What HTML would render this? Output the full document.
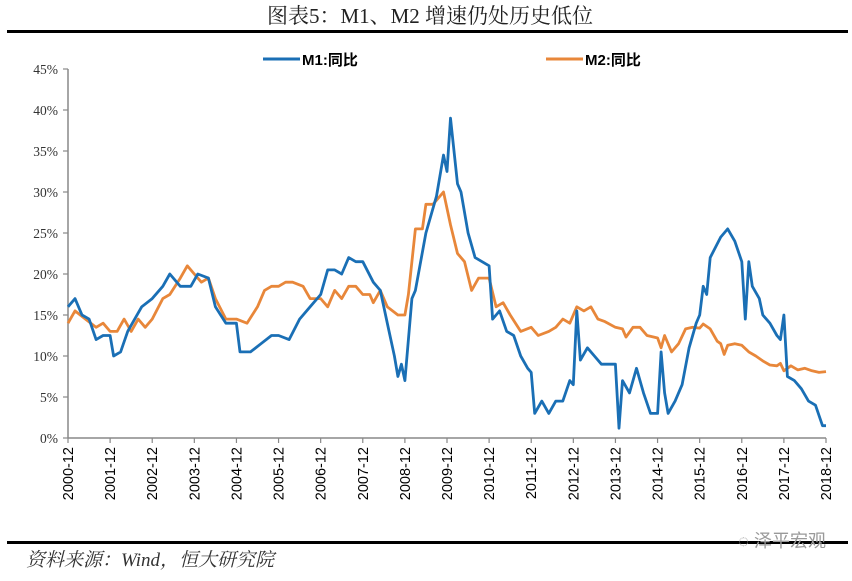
<!DOCTYPE html>
<html><head><meta charset="utf-8"><style>
body{margin:0;background:#fff;width:852px;height:576px;overflow:hidden}
</style></head><body>
<svg width="852" height="576" xmlns="http://www.w3.org/2000/svg">
<text x="430" y="23" text-anchor="middle" font-family="'Liberation Serif','Noto Serif CJK SC',serif" font-size="21" fill="#222">图表5：M1、M2 增速仍处历史低位</text>
<rect x="7" y="30" width="841" height="3" fill="#000"/>
<g>
<line x1="263" y1="59" x2="300" y2="59" stroke="#1a6fb5" stroke-width="3"/>
<text x="302" y="65" font-family="'Liberation Sans','Noto Sans CJK SC',sans-serif" font-weight="bold" font-size="15" fill="#000">M1:同比</text>
<line x1="546" y1="59" x2="583" y2="59" stroke="#e8873a" stroke-width="3"/>
<text x="585" y="65" font-family="'Liberation Sans','Noto Sans CJK SC',sans-serif" font-weight="bold" font-size="15" fill="#000">M2:同比</text>
</g>
<g id="axes"></g>
<g id="series"></g>
<rect x="7" y="541" width="841" height="3" fill="#000"/>
<text x="26" y="566" font-family="'Liberation Serif','Noto Serif CJK SC',serif" font-style="italic" font-size="19" fill="#333">资料来源：Wind，恒大研究院</text>
<text x="826" y="547" text-anchor="end" font-family="'Liberation Sans','Noto Sans CJK SC',sans-serif" font-size="18" fill="#999">◌ 泽平宏观</text>
</svg>
<script>
const yTicks=[0,5,10,15,20,25,30,35,40,45];
const xTickLabels=["2000-12","2001-12","2002-12","2003-12","2004-12","2005-12","2006-12","2007-12","2008-12","2009-12","2010-12","2011-12","2012-12","2013-12","2014-12","2015-12","2016-12","2017-12","2018-12"];
const m1Dates=["2000-12","2001-02","2001-04","2001-06","2001-08","2001-10","2001-12","2002-01","2002-03","2002-05","2002-07","2002-09","2002-12","2003-03","2003-05","2003-08","2003-11","2004-01","2004-04","2004-06","2004-09","2004-12","2005-01","2005-04","2005-07","2005-10","2005-12","2006-03","2006-06","2006-09","2006-12","2007-02","2007-04","2007-06","2007-08","2007-10","2007-12","2008-03","2008-05","2008-07","2008-09","2008-10","2008-11","2008-12","2009-02","2009-03","2009-06","2009-09","2009-11","2009-12","2010-01","2010-03","2010-04","2010-06","2010-08","2010-10","2010-12","2011-01","2011-03","2011-05","2011-07","2011-09","2011-11","2011-12","2012-01","2012-03","2012-05","2012-07","2012-09","2012-11","2012-12","2013-01","2013-02","2013-04","2013-06","2013-08","2013-10","2013-12","2014-01","2014-02","2014-04","2014-06","2014-08","2014-10","2014-12","2015-01","2015-02","2015-03","2015-05","2015-07","2015-09","2015-11","2015-12","2016-01","2016-02","2016-03","2016-06","2016-08","2016-10","2016-12","2017-01","2017-02","2017-03","2017-05","2017-06","2017-08","2017-10","2017-11","2017-12","2018-01","2018-03","2018-05","2018-07","2018-09","2018-11","2018-12"];
const m1Values=[16,17,15,14.5,12,12.5,12.5,10,10.5,13,14.5,16,17,18.5,20,18.5,18.5,20,19.5,16,14,14,10.5,10.5,11.5,12.5,12.5,12,14.5,16,17.5,20.5,20.5,20,22,21.5,21.5,19,18,14,10,7.5,9,7,17,18,25,29.5,34.5,32.5,39,31,30,25,22,21.5,21,14.5,15.5,13,12.5,10,8.5,8,3,4.5,3,4.5,4.5,7,6.5,15.5,9.5,11,10,9,9,9,1.2,7,5.5,8.5,5.5,3,3,10.5,5.5,3,4.5,6.5,11,14,15,18.5,17.5,22,24.5,25.5,24,21.5,14.5,21.5,18.5,17,15,14,12.5,12,15,7.5,7,6,4.5,4,1.5,1.5];
const m2Dates=["2000-12","2001-02","2001-05","2001-08","2001-10","2001-12","2002-02","2002-04","2002-06","2002-08","2002-10","2002-12","2003-03","2003-05","2003-08","2003-10","2003-12","2004-02","2004-04","2004-06","2004-09","2004-12","2005-03","2005-06","2005-08","2005-10","2005-12","2006-02","2006-04","2006-07","2006-09","2006-12","2007-02","2007-04","2007-06","2007-08","2007-10","2007-12","2008-02","2008-03","2008-05","2008-07","2008-10","2008-12","2009-01","2009-03","2009-05","2009-06","2009-08","2009-10","2009-11","2010-01","2010-03","2010-05","2010-07","2010-09","2010-12","2011-02","2011-04","2011-06","2011-09","2011-12","2012-02","2012-05","2012-07","2012-09","2012-11","2013-01","2013-03","2013-05","2013-07","2013-09","2013-12","2014-02","2014-03","2014-05","2014-07","2014-09","2014-11","2014-12","2015-01","2015-02","2015-04","2015-06","2015-08","2015-10","2015-12","2016-01","2016-03","2016-05","2016-06","2016-07","2016-08","2016-10","2016-12","2017-02","2017-04","2017-06","2017-08","2017-10","2017-11","2017-12","2018-02","2018-04","2018-06","2018-08","2018-10","2018-12"];
const m2Values=[14,15.5,14.5,13.5,14,13,13,14.5,13,14.5,13.5,14.5,17,17.5,19.5,21,20,19,19.5,17,14.5,14.5,14,16,18,18.5,18.5,19,19,18.5,17,17,16,18,17,18.5,18.5,17.5,17.5,16.5,18,16,15,15,17.5,25.5,25.5,28.5,28.5,29.5,30,26,22.5,21.5,18,19.5,19.5,16,16.5,15,13,13.5,12.5,13,13.5,14.5,14,16,15.5,16,14.5,14.2,13.5,13.3,12.3,13.5,13.5,12.5,12.3,12.2,11,12.5,10.5,11.5,13.3,13.5,13.4,13.9,13.3,11.8,11.5,10.2,11.3,11.5,11.3,10.5,10,9.4,8.9,8.8,9.1,8.2,8.8,8.3,8.5,8.2,8.0,8.1];

const X0=68,X1=826,Y0=438,YPX=8.2;
function t(d){const p=d.split("-");return (+p[0]-2000)+(+p[1]-12)/12;}
function xs(d){return X0+(X1-X0)*t(d)/18;}
function ys(v){return Y0-v*YPX;}
const NS="http://www.w3.org/2000/svg";
const ax=document.getElementById("axes");
function mk(tag,attrs,parent){const e=document.createElementNS(NS,tag);for(const k in attrs)e.setAttribute(k,attrs[k]);parent.appendChild(e);return e;}
let yl=mk("line",{x1:X0,y1:ys(45),x2:X0,y2:Y0,stroke:"#888","stroke-width":1.5},ax);


let xl=mk("line",{x1:X0,y1:Y0,x2:X1,y2:Y0,stroke:"#888","stroke-width":1.5},ax);


yTicks.forEach(v=>{
  mk("line",{x1:X0-5,y1:ys(v),x2:X0,y2:ys(v),stroke:"#888","stroke-width":1.2},ax);
  const tx=mk("text",{x:X0-10,y:ys(v)+5,"text-anchor":"end","font-family":"'Liberation Serif',serif","font-size":13.5,fill:"#333"},ax);
  tx.textContent=v+"%";
  
  
});
xTickLabels.forEach(l=>{
  const x=xs(l);
  mk("line",{x1:x,y1:Y0,x2:x,y2:Y0+5,stroke:"#888","stroke-width":1.2},ax);
  const tx=mk("text",{x:0,y:0,transform:`translate(${x+5},447) rotate(-90)`,"text-anchor":"end","font-family":"'Liberation Sans',sans-serif","font-size":14.5,fill:"#000"},ax);
  tx.textContent=l;
  
  
});
const sg=document.getElementById("series");
function line(dates,vals,color,name){
  const d=dates.map((dd,i)=>(i?"L":"M")+xs(dd).toFixed(1)+","+ys(vals[i]).toFixed(1)).join("");
  const p=mk("path",{d:d,fill:"none",stroke:color,"stroke-width":2.8,"stroke-linejoin":"round"},sg);
  
  
}
line(m2Dates,m2Values,"#e8873a","m2-line");
line(m1Dates,m1Values,"#1a6fb5","m1-line");
</script>
</body></html>
